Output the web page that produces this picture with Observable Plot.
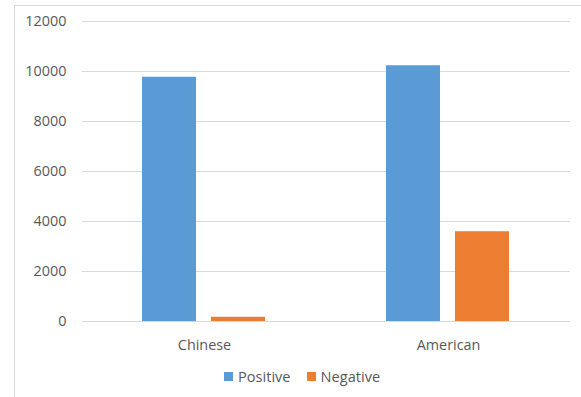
<!DOCTYPE html>
<html>
<head>
<meta charset="utf-8">
<script src="https://cdn.jsdelivr.net/npm/d3@7"></script>
<script src="https://cdn.jsdelivr.net/npm/@observablehq/plot@0.6"></script>
<style>
  html, body { margin: 0; padding: 0; background: #fff; }
  body { width: 581px; height: 397px; position: relative; overflow: hidden; font-family: "Open Sans", "Liberation Sans", sans-serif; }
  #frame { position: absolute; left: 14px; top: 5px; width: 600px; height: 420px; border: 1px solid #d9d9d9; box-sizing: border-box; }
  #chart { position: absolute; left: 0; top: 0; }
  #legend { position: absolute; left: 224px; top: 366px; display: flex; align-items: center; font-size: 14.6px; color: #595959; }
  .sw { display: inline-block; width: 9px; height: 9px; margin-right: 5px; }
  .item { display: flex; align-items: center; margin-right: 16px; }
</style>
</head>
<body>
<div id="frame"></div>
<div id="chart"></div>
<div id="legend"></div>
<script>
const categories = ["Chinese", "American"];
const series = ["Positive", "Negative"];
const positive = [9770, 10230];
const negative = [170, 3590];
const colors = ["#5b9bd5", "#ed7d31"];
const yTicks = [0, 2000, 4000, 6000, 8000, 10000, 12000];

const rows = [];
categories.forEach((c, i) => {
  rows.push({category: c, series: "Positive", value: positive[i]});
  rows.push({category: c, series: "Negative", value: negative[i]});
});

const chart = Plot.plot({
  width: 581,
  height: 360,
  marginLeft: 81,
  marginRight: 11,
  marginTop: 21,
  marginBottom: 39,
  style: {fontFamily: "'Open Sans', 'Liberation Sans', sans-serif", fontSize: "14.4px", color: "#595959", background: "transparent"},
  fx: {domain: categories, padding: 0, label: null, tickSize: 0, tickPadding: 18, axis: "bottom"},
  x: {domain: series, axis: null, paddingInner: 0.214, paddingOuter: 0.854},
  y: {domain: [0, 12000], ticks: yTicks, label: null, tickSize: 0, tickPadding: 16, tickFormat: d => String(d)},
  color: {domain: series, range: colors},
  marks: [
    Plot.gridY(yTicks, {stroke: "#d9d9d9", strokeOpacity: 1, strokeWidth: 1}),
    Plot.barY(rows, {fx: "category", x: "series", y: "value", fill: "series"}),
    Plot.ruleY([0], {stroke: "#d9d9d9", strokeWidth: 1}),
    Plot.axisY(yTicks, {tickSize: 0, tickPadding: 16, tickFormat: d => String(d), fill: "#595959", label: null})
  ]
});
document.getElementById("chart").appendChild(chart);

const legend = document.getElementById("legend");
series.forEach((s, i) => {
  const item = document.createElement("div");
  item.className = "item";
  const sw = document.createElement("span");
  sw.className = "sw";
  sw.style.background = colors[i];
  item.appendChild(sw);
  const t = document.createElement("span");
  t.textContent = s;
  item.appendChild(t);
  legend.appendChild(item);
});
</script>
</body>
</html>
